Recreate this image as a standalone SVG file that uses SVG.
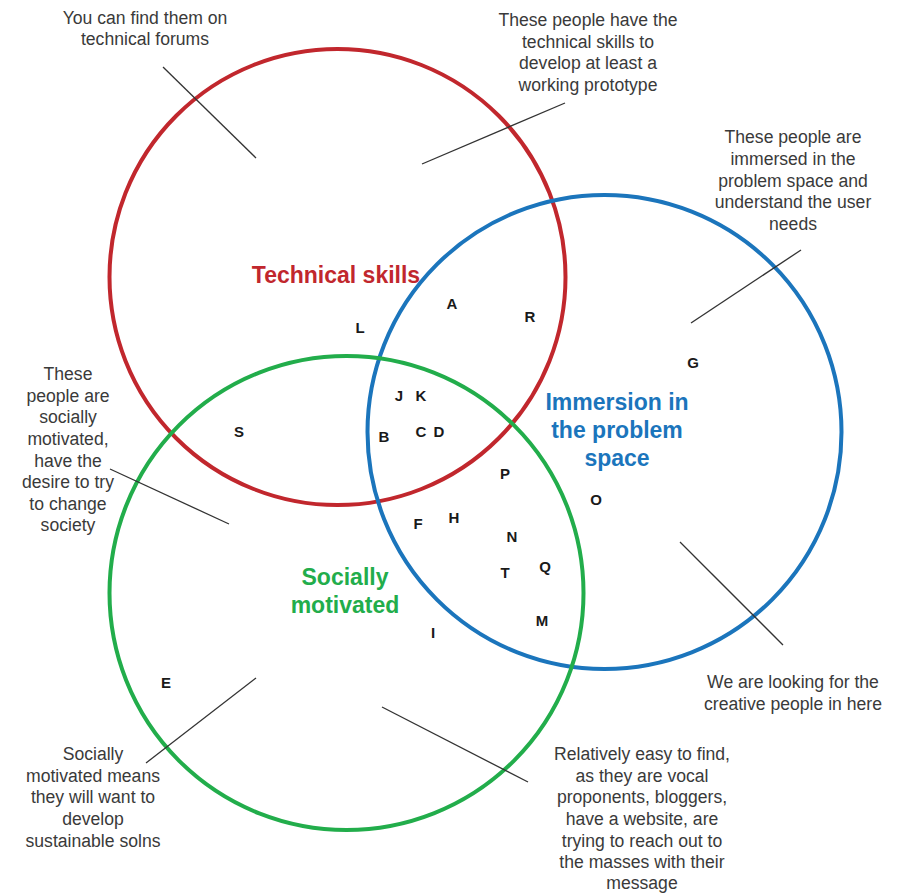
<svg xmlns="http://www.w3.org/2000/svg" width="899" height="893" viewBox="0 0 899 893">
<style>
.note{font-family:"Liberation Sans",Arial,sans-serif;font-size:17.6px;fill:#3a3a3a;text-anchor:middle}
.lbl{font-family:"Liberation Sans",Arial,sans-serif;font-size:23px;font-weight:bold;text-anchor:middle}
.ltr{font-family:"Liberation Sans",Arial,sans-serif;font-size:15px;font-weight:bold;fill:#1a1a1a;text-anchor:middle}
.ring{fill:none;stroke-width:4}
.lead{stroke:#333;stroke-width:1.3;fill:none}
</style>
<rect width="899" height="893" fill="#fff"/>
<g id="technical-skills">
<circle class="ring" cx="337.5" cy="277" r="228" stroke="#c1272d"/>
<text class="lbl" x="336" y="283" fill="#c1272d">Technical skills</text>
</g>
<g id="immersion">
<circle class="ring" cx="604.5" cy="432" r="237" stroke="#1b75bc"/>
<text class="lbl" x="617" y="410" fill="#1b75bc">Immersion in</text>
<text class="lbl" x="617" y="438" fill="#1b75bc">the problem</text>
<text class="lbl" x="617" y="466" fill="#1b75bc">space</text>
</g>
<g id="socially-motivated">
<circle class="ring" cx="346.5" cy="593" r="237" stroke="#22ad4b"/>
<text class="lbl" x="345" y="585" fill="#22ad4b">Socially</text>
<text class="lbl" x="345" y="613" fill="#22ad4b">motivated</text>
</g>
<g id="letters">
<text class="ltr" x="452" y="309">A</text>
<text class="ltr" x="530" y="322">R</text>
<text class="ltr" x="360" y="333">L</text>
<text class="ltr" x="693" y="368">G</text>
<text class="ltr" x="399" y="401">J</text>
<text class="ltr" x="421" y="401">K</text>
<text class="ltr" x="239" y="437">S</text>
<text class="ltr" x="384" y="442">B</text>
<text class="ltr" x="421" y="437">C</text>
<text class="ltr" x="439" y="437">D</text>
<text class="ltr" x="505" y="479">P</text>
<text class="ltr" x="596" y="505">O</text>
<text class="ltr" x="418" y="529">F</text>
<text class="ltr" x="454" y="523">H</text>
<text class="ltr" x="512" y="542">N</text>
<text class="ltr" x="505" y="578">T</text>
<text class="ltr" x="545" y="572">Q</text>
<text class="ltr" x="542" y="626">M</text>
<text class="ltr" x="433" y="638">I</text>
<text class="ltr" x="166" y="688">E</text>
</g>
<g id="connectors">
<line class="lead" x1="163" y1="67" x2="256" y2="158"/>
<line class="lead" x1="422" y1="164" x2="565" y2="103"/>
<line class="lead" x1="801" y1="250" x2="691" y2="323"/>
<line class="lead" x1="110" y1="469" x2="229" y2="524"/>
<line class="lead" x1="680" y1="542" x2="783" y2="645"/>
<line class="lead" x1="256" y1="678" x2="146" y2="763"/>
<line class="lead" x1="382" y1="707" x2="528" y2="782"/>
</g>
<g id="note-forums">
<text class="note" x="145" y="24">You can find them on</text>
<text class="note" x="145" y="45">technical forums</text>
</g>
<g id="note-prototype">
<text class="note" x="588" y="26">These people have the</text>
<text class="note" x="588" y="48">technical skills to</text>
<text class="note" x="588" y="69">develop at least a</text>
<text class="note" x="588" y="91">working prototype</text>
</g>
<g id="note-immersed">
<text class="note" x="793" y="143">These people are</text>
<text class="note" x="793" y="165">immersed in the</text>
<text class="note" x="793" y="187">problem space and</text>
<text class="note" x="793" y="208">understand the user</text>
<text class="note" x="793" y="230">needs</text>
</g>
<g id="note-society">
<text class="note" x="68" y="380">These</text>
<text class="note" x="68" y="402">people are</text>
<text class="note" x="68" y="423">socially</text>
<text class="note" x="68" y="445">motivated,</text>
<text class="note" x="68" y="467">have the</text>
<text class="note" x="68" y="488">desire to try</text>
<text class="note" x="68" y="510">to change</text>
<text class="note" x="68" y="531">society</text>
</g>
<g id="note-creative">
<text class="note" x="793" y="688">We are looking for the</text>
<text class="note" x="793" y="710">creative people in here</text>
</g>
<g id="note-easy">
<text class="note" x="642" y="760">Relatively easy to find,</text>
<text class="note" x="642" y="782">as they are vocal</text>
<text class="note" x="642" y="803">proponents, bloggers,</text>
<text class="note" x="642" y="825">have a website, are</text>
<text class="note" x="642" y="847">trying to reach out to</text>
<text class="note" x="642" y="868">the masses with their</text>
<text class="note" x="642" y="889">message</text>
</g>
<g id="note-sustainable">
<text class="note" x="93" y="760">Socially</text>
<text class="note" x="93" y="782">motivated means</text>
<text class="note" x="93" y="803">they will want to</text>
<text class="note" x="93" y="825">develop</text>
<text class="note" x="93" y="847">sustainable solns</text>
</g>
</svg>
